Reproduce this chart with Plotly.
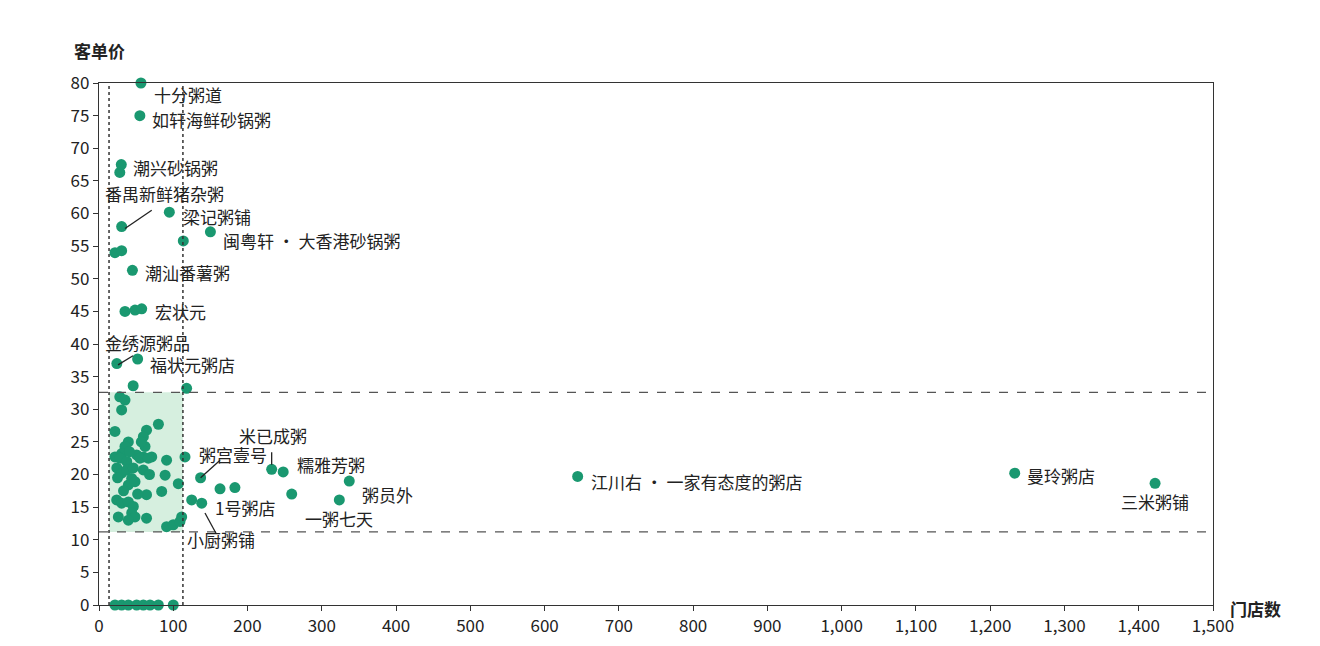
import plotly.graph_objects as go

# ---- data (门店数, 客单价) ----
store_counts = [
    56.5, 55, 28, 30, 30.5, 94.7, 150, 113.5, 21.5, 30.5,
    45, 35, 48.5, 57.5, 24, 52, 46, 118,
    28, 35, 30.5, 80, 21.5, 64, 59.7, 39.5, 35, 62, 30.5, 26, 21.5,
    50.7, 59.7, 71, 91, 115.8, 28.3, 37.3, 24, 30.5, 37.3, 46.2, 44, 39.5, 48.5,
    59.7, 55, 66.4, 89, 106.8, 64, 84.4, 124.8, 23.8, 30.5, 39.5, 46.2, 44, 48.5,
    39.5, 26, 64, 91, 100, 111.3, 109, 25, 33, 41, 52, 57, 68,
    136.8, 163, 183, 138.3, 232.5, 248, 259.5, 337, 323.6, 644.5, 1233, 1422,
    21.5, 30.5, 39.5, 50.7, 59.7, 68.7, 79.9, 100,
]
avg_prices = [
    80, 75, 66.3, 67.5, 58, 60.2, 57.2, 55.8, 54, 54.3,
    51.3, 45, 45.2, 45.4, 37, 37.7, 33.6, 33.2,
    31.9, 31.4, 29.9, 27.7, 26.6, 26.8, 25.8, 25, 24.3, 24.3, 23.2, 22.7, 22.7,
    23, 22.7, 22.7, 22.2, 22.7, 22.5, 22, 21, 20.2, 20.7, 21, 19.4, 18.4, 18.9,
    20.7, 22.5, 22.5, 19.9, 18.6, 16.9, 17.4, 16.1, 16.1, 15.6, 15.8, 15.1, 14.1, 13.5,
    13, 13.5, 13.3, 12, 12.3, 13.5, 12.8, 19.5, 17.5, 23.5, 17, 25, 20,
    19.5, 17.8, 18, 15.6, 20.8, 20.4, 17.0, 19.0, 16.1, 19.7, 20.2, 18.65,
    0, 0, 0, 0, 0, 0, 0, 0,
]

# ---- labels ----
label_texts = ["十分粥道", "如轩海鲜砂锅粥", "潮兴砂锅粥", "番禺新鲜猪杂粥", "梁记粥铺",
               "闽粤轩 · 大香港砂锅粥", "潮汕番薯粥", "宏状元", "金绣源粥品", "福状元粥店",
               "米已成粥", "粥宫壹号", "糯雅芳粥", "江川右 · 一家有态度的粥店", "曼玲粥店",
               "三米粥铺", "粥员外", "1号粥店", "一粥七天", "小厨粥铺"]
label_x = [71.4, 68.7, 43.1, 5.4, 110.4, 164.3, 59.2, 72.7, 5.4, 66,
           185.8, 132, 264, 660, 1247, 1422, 351.4, 153.5, 274.7, 115.8]
label_y = [78.2, 74.4, 67, 63.1, 59.5, 55.9, 51, 45, 40.2, 36.9,
           26, 23, 21.5, 19, 19.8, 15.8, 17, 14.9, 13.3, 10]
label_anchor = ["left"] * 15 + ["center"] + ["left"] * 4

# leader lines (x0, y0, x1, y1)
leaders = [
    (35, 57.7, 71, 60.5),
    (25.6, 36.8, 45.8, 38.2),
    (232.5, 21.5, 232.5, 23.4),
    (136.8, 19.5, 163, 22.2),
    (142.7, 14.1, 157.5, 11.0),
]

# reference lines
x_lo, x_hi = 13.5, 113
y_lo, y_hi = 11.2, 32.6

GREEN = "#1a9870"
TXT = "#222222"
FONT = "Noto Sans CJK SC"

fig = go.Figure()
fig.add_trace(go.Scatter(
    x=store_counts, y=avg_prices, mode="markers",
    marker=dict(size=11, color=GREEN, line=dict(width=0)),
    cliponaxis=False, hoverinfo="x+y", showlegend=False,
))

shapes = [
    dict(type="rect", xref="x", yref="y", x0=x_lo, x1=x_hi, y0=y_lo, y1=y_hi,
         fillcolor="#d6efdf", line=dict(width=0), layer="below"),
    dict(type="line", xref="paper", yref="y", x0=0, x1=1, y0=y_hi, y1=y_hi,
         line=dict(color="#555", width=1.3, dash="dash")),
    dict(type="line", xref="paper", yref="y", x0=0, x1=1, y0=y_lo, y1=y_lo,
         line=dict(color="#555", width=1.3, dash="dash")),
    dict(type="line", xref="x", yref="paper", x0=x_lo, x1=x_lo, y0=0, y1=1,
         line=dict(color="#333", width=1.5, dash="dot")),
    dict(type="line", xref="x", yref="paper", x0=x_hi, x1=x_hi, y0=0, y1=1,
         line=dict(color="#333", width=1.5, dash="dot")),
]
for (a, b, c, d) in leaders:
    shapes.append(dict(type="line", xref="x", yref="y", x0=a, y0=b, x1=c, y1=d,
                       line=dict(color="#222", width=1.3)))

annotations = []
for t, lx, ly, anc in zip(label_texts, label_x, label_y, label_anchor):
    annotations.append(dict(x=lx, y=ly, xref="x", yref="y", text=t, showarrow=False,
                            xanchor=anc, yanchor="middle",
                            font=dict(family=FONT, size=17, color=TXT)))
annotations.append(dict(x=-0.0242, y=1.063, xref="paper", yref="paper", text="<b>客单价</b>",
                        showarrow=False, xanchor="left", yanchor="middle",
                        font=dict(family=FONT, size=17, color=TXT)))
annotations.append(dict(x=1.0135, y=-0.006, xref="paper", yref="paper", text="<b>门店数</b>",
                        showarrow=False, xanchor="left", yanchor="middle",
                        font=dict(family=FONT, size=17, color=TXT)))

fig.update_layout(
    width=1320, height=646,
    margin=dict(l=91, r=115, t=75, b=49),
    paper_bgcolor="white", plot_bgcolor="white",
    shapes=shapes, annotations=annotations,
    font=dict(family=FONT, color=TXT),
    xaxis=dict(range=[0, 1500], tickvals=list(range(0, 1501, 100)), tickformat=",",
               showgrid=False, zeroline=False, showline=True, linecolor="#333",
               linewidth=1.3, mirror=True, ticks="outside", ticklen=5,
               tickcolor="#333", tickfont=dict(family=FONT, size=17, color=TXT)),
    yaxis=dict(range=[0, 80], tickvals=list(range(0, 81, 5)),
               showgrid=False, zeroline=False, showline=True, linecolor="#333",
               linewidth=1.3, mirror=True, ticks="outside", ticklen=5,
               tickcolor="#333", tickfont=dict(family=FONT, size=17, color=TXT)),
)

fig.write_html("out.html")
